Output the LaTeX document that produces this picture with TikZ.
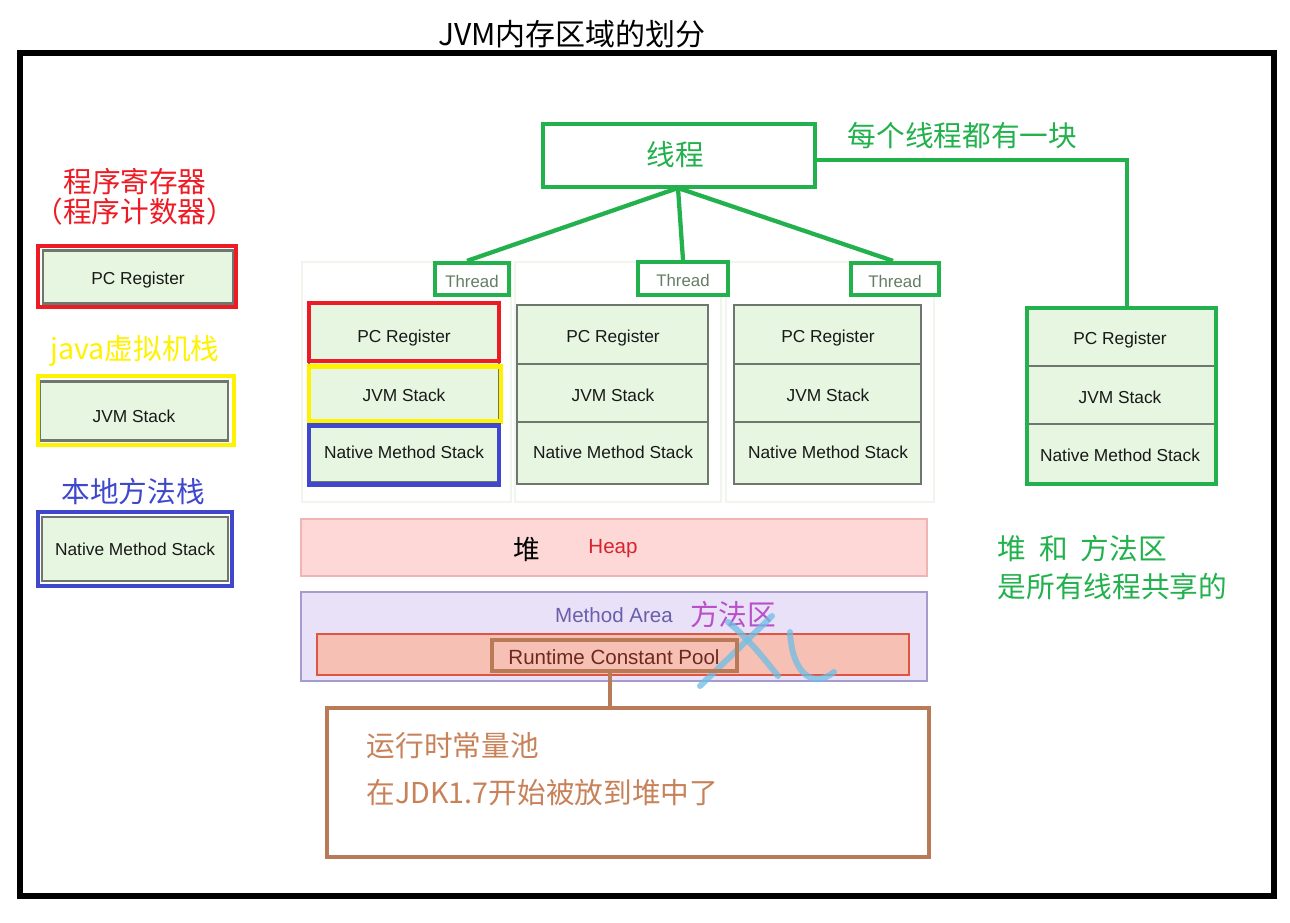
\documentclass[tikz,border=0pt]{standalone}
\usepackage{fontspec}
\setmainfont{Liberation Sans}
\newfontfamily\cjk{Noto Sans CJK SC}
\definecolor{pgreen}{RGB}{34,177,76}
\definecolor{pred}{RGB}{237,28,36}
\definecolor{pyellow}{RGB}{255,242,0}
\definecolor{pblue}{RGB}{63,72,204}
\definecolor{pbrown}{RGB}{185,122,87}
\definecolor{lgfill}{RGB}{230,246,225}
\definecolor{gborder}{RGB}{110,118,110}
\definecolor{threadtxt}{RGB}{100,125,100}
\definecolor{heapfill}{RGB}{253,216,214}
\definecolor{heapdraw}{RGB}{240,180,178}
\definecolor{heaptxt}{RGB}{215,35,45}
\definecolor{mafill}{RGB}{232,225,248}
\definecolor{madraw}{RGB}{165,155,205}
\definecolor{matxt}{RGB}{105,95,170}
\definecolor{fangtxt}{RGB}{185,80,200}
\definecolor{rcpfill}{RGB}{246,192,180}
\definecolor{rcpdraw}{RGB}{222,85,65}
\definecolor{rcptxt}{RGB}{110,40,30}
\definecolor{wmark}{RGB}{110,190,230}
\definecolor{panel}{RGB}{240,245,238}
\definecolor{btxt}{RGB}{200,130,90}
\tikzset{
  cell/.style={draw=gborder, line width=1.7pt, fill=lgfill, inner sep=0pt},
  celltext/.style={font=\fontsize{13pt}{15pt}\selectfont, text=black!90},
  frame/.style={line width=3.6pt, fill=none},
  gline/.style={draw=pgreen, line width=3.2pt},
  cn/.style={font=\cjk\fontsize{21.5pt}{26pt}\selectfont},
  threadbox/.style={draw=pgreen, line width=3.2pt, fill=white, inner sep=0pt},
}
\begin{document}
\begin{tikzpicture}[x=0.75pt, y=-0.75pt]
\useasboundingbox[fill=white] (0,0) rectangle (1290,922);
% title
\node[font=\cjk\fontsize{22.5pt}{26pt}\selectfont, anchor=center] (title) at (572,34) {JVM内存区域的划分};
% outer frame
\node[draw=black, line width=3.8pt, minimum width=1254*0.75pt, minimum height=843*0.75pt, inner sep=0pt] (outer) at (647,474.5) {};

% ===== left legend =====
\node[cn, text=pred] (lpc1) at (135,182) {程序寄存器};
\node[cn, text=pred] (lpc2) at (135,212) {（程序计数器）};
\node[cell, minimum width=190*0.75pt, minimum height=53*0.75pt] (lpc) at (138,277) {};
\node[celltext] at (138,280) {PC Register};
\node[draw=pred, frame, minimum width=198*0.75pt, minimum height=61*0.75pt, inner sep=0pt] (lpcf) at (137,276.5) {};

\node[cn, text=pyellow] (ljvm1) at (135,351) {java虚拟机栈};
\node[cell, minimum width=188*0.75pt, minimum height=59*0.75pt] (ljvm) at (134,411) {};
\node[celltext] at (134,416) {JVM Stack};
\node[draw=pyellow, frame, minimum width=196*0.75pt, minimum height=69*0.75pt, inner sep=0pt] (ljvmf) at (136,410.5) {};

\node[cn, text=pblue] (lnms1) at (133,492) {本地方法栈};
\node[cell, minimum width=186*0.75pt, minimum height=64*0.75pt] (lnms) at (135,549) {};
\node[celltext] at (lnms) {Native Method Stack};
\node[draw=pblue, frame, minimum width=194*0.75pt, minimum height=74*0.75pt, inner sep=0pt] (lnmsf) at (135,549) {};

% ===== faint panels =====
\draw[panel, line width=0.8pt] (302,262) rectangle (511,502);
\draw[panel, line width=0.8pt] (515,262) rectangle (721,502);
\draw[panel, line width=0.8pt] (726,262) rectangle (934,502);

% ===== thread root =====
\node[draw=pgreen, line width=3.4pt, minimum width=272*0.75pt, minimum height=63*0.75pt, inner sep=0pt] (root) at (679,155.5) {};
\node[cn, text=pgreen] at (675,155) {线程};
\node[cn, text=pgreen, anchor=west] (each) at (843,136) {每个线程都有一块};

% thread boxes
\node[threadbox, minimum width=74*0.75pt, minimum height=32*0.75pt] (t1) at (472,279) {};
\node[threadbox, minimum width=90*0.75pt, minimum height=33*0.75pt] (t2) at (683,278.5) {};
\node[threadbox, minimum width=88*0.75pt, minimum height=32*0.75pt] (t3) at (895,279) {};
\foreach \t in {t1,t2,t3}{\node[font=\fontsize{12.6pt}{14pt}\selectfont, text=threadtxt] at ([yshift=-2*0.75pt]\t.center) {Thread};}

\coordinate (rb) at (678,188);
\draw[gline] (rb) -- ([xshift=-5*0.75pt]t1.north);
\draw[gline] (rb) -- (t2.north);
\draw[gline] (rb) -- ([xshift=-2*0.75pt]t3.north);

% ===== column 1 =====
\node[cell, minimum width=190*0.75pt, minimum height=178*0.75pt] (c1) at (404,393) {};
\node[celltext] at (404,338) {PC Register};
\node[celltext] at (404,395) {JVM Stack};
\node[celltext] at (404,452) {Native Method Stack};
\node[draw=pred, frame, minimum width=190*0.75pt, minimum height=58*0.75pt, inner sep=0pt] (c1pc) at (404,332) {};
\node[draw=pyellow, frame, minimum width=192*0.75pt, minimum height=55*0.75pt, inner sep=0pt] (c1jvm) at (405,394) {};
\node[draw=pblue, frame, minimum width=190*0.75pt, minimum height=59*0.75pt, inner sep=0pt] (c1nms) at (404,455) {};

% ===== column 2 =====
\node[cell, minimum width=191*0.75pt, minimum height=179*0.75pt] (c2) at (612.5,394.5) {};
\draw[gborder, line width=1.7pt] (517,364) -- (708,364);
\draw[gborder, line width=1.7pt] (517,422) -- (708,422);
\node[celltext] at (613,338) {PC Register};
\node[celltext] at (613,395) {JVM Stack};
\node[celltext] at (613,452) {Native Method Stack};

% ===== column 3 =====
\node[cell, minimum width=187*0.75pt, minimum height=179*0.75pt] (c3) at (827.5,394.5) {};
\draw[gborder, line width=1.7pt] (734,364) -- (921,364);
\draw[gborder, line width=1.7pt] (734,422) -- (921,422);
\node[celltext] at (828,338) {PC Register};
\node[celltext] at (828,395) {JVM Stack};
\node[celltext] at (828,452) {Native Method Stack};

% ===== right column =====
\node[cell, minimum width=187*0.75pt, minimum height=174*0.75pt] (c4) at (1121.5,396) {};
\draw[gborder, line width=1.7pt] (1029,366) -- (1214,366);
\draw[gborder, line width=1.7pt] (1029,424) -- (1214,424);
\node[celltext] at (1120,340) {PC Register};
\node[celltext] at (1120,397) {JVM Stack};
\node[celltext] at (1120,455) {Native Method Stack};
\node[draw=pgreen, frame, minimum width=189*0.75pt, minimum height=176*0.75pt, inner sep=0pt] (c4f) at (1121.5,396) {};

\coordinate (corner) at (1127,160);
\draw[gline] (root.east |- corner) -- (corner) -- (corner |- c4f.north);

\node[cn, text=pgreen, anchor=west] (share1) at (993,549) {堆\ \ 和\ \ 方法区};
\node[cn, text=pgreen, anchor=west] (share2) at (993,587) {是所有线程共享的};

% ===== heap =====
\node[draw=heapdraw, fill=heapfill, line width=1.6pt, minimum width=626*0.75pt, minimum height=57*0.75pt, inner sep=0pt] (heap) at (614,547.5) {};
\node[font=\cjk\fontsize{20pt}{24pt}\selectfont, text=black] (dui) at (527,549) {堆};
\node[font=\fontsize{15.4pt}{18pt}\selectfont, text=heaptxt] (heapt) at (613,549) {Heap};

% ===== method area =====
\node[draw=madraw, fill=mafill, line width=1.6pt, minimum width=626*0.75pt, minimum height=89*0.75pt, inner sep=0pt] (ma) at (614,636.5) {};
\node[font=\fontsize{15.4pt}{18pt}\selectfont, text=matxt] (mat) at (614,615) {Method Area};
\node[cn, text=fangtxt] (fang) at (733,615) {方法区};
\node[draw=rcpdraw, fill=rcpfill, line width=1.6pt, minimum width=592*0.75pt, minimum height=41*0.75pt, inner sep=0pt] (rcp) at (613,654.5) {};
% watermark strokes
\draw[wmark, line width=4.5pt, line cap=round, opacity=0.75] (700,686) -- (772,616);
\draw[wmark, line width=4.5pt, line cap=round, opacity=0.75] (728,622) .. controls (750,640) and (765,660) .. (778,676);
\draw[wmark, line width=4.5pt, line cap=round, opacity=0.75] (790,632) .. controls (792,672) and (812,690) .. (834,672);
\node[draw=pbrown, line width=3.4pt, minimum width=245*0.75pt, minimum height=31*0.75pt, inner sep=0pt] (rcpb) at (614.5,655.5) {};
\node[font=\fontsize{15.4pt}{18pt}\selectfont, text=rcptxt] (rcpt) at (614,657) {Runtime Constant Pool};

% ===== bottom note =====
\node[draw=pbrown, line width=3.4pt, minimum width=602*0.75pt, minimum height=149*0.75pt, inner sep=0pt] (note) at (628,782.5) {};
\draw[pbrown, line width=3.4pt] (rcpb.south -| 610,0) -- (note.north -| 610,0);
\node[cn, text=btxt, anchor=west] (n1) at (362,746) {运行时常量池};
\node[cn, text=btxt, anchor=west] (n2) at (362,793) {在JDK1.7开始被放到堆中了};
\end{tikzpicture}
\end{document}
